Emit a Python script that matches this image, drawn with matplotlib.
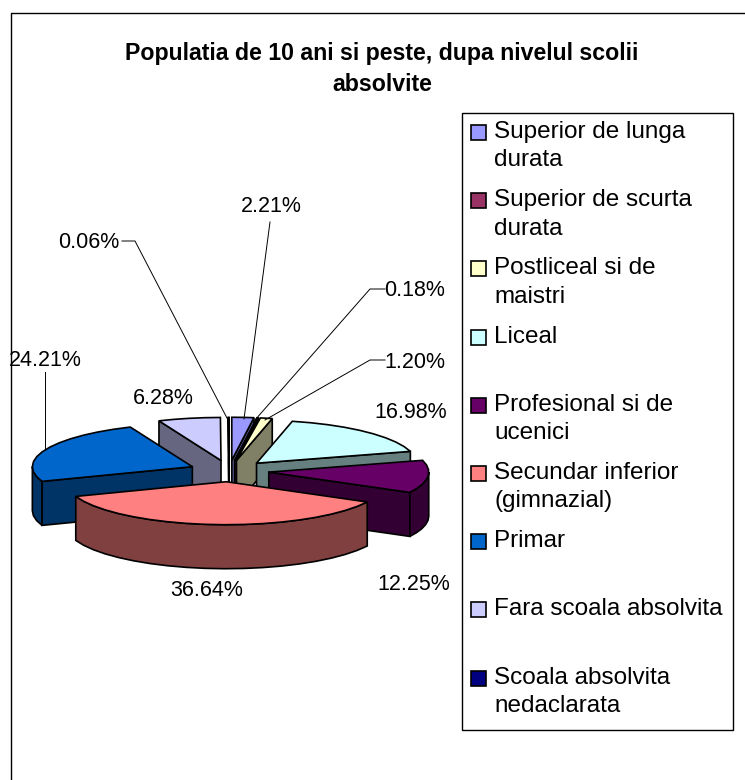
import matplotlib
matplotlib.use("Agg")
import matplotlib.pyplot as plt
from matplotlib.patches import Polygon, Rectangle
import numpy as np

plt.rcParams['font.family'] = ['Liberation Sans', 'DejaVu Sans']

title = "Populatia de 10 ani si peste, dupa nivelul scolii\nabsolvite"
categories = ["Superior de lunga\ndurata", "Superior de scurta\ndurata", "Postliceal si de\nmaistri",
              "Liceal", "Profesional si de\nucenici", "Secundar inferior\n(gimnazial)", "Primar",
              "Fara scoala absolvita", "Scoala absolvita\nnedaclarata"]
values = [2.21, 0.18, 1.20, 16.98, 12.25, 36.64, 24.21, 6.28, 0.06]
colors = ["#9999FF", "#993366", "#FFFFCC", "#CCFFFF", "#660066", "#FF8080", "#0066CC", "#CCCCFF", "#000080"]

# pie geometry, in pixels of the picture
cx, cy = 229, 471
rx, ry = 160, 43
depth = 44
explode = 0.25
lw = 1.2

fig = plt.figure(figsize=(7.45, 7.8), dpi=100)
ax = fig.add_axes([0, 0, 1, 1])
ax.set_xlim(0, 745)
ax.set_ylim(780, 0)
ax.axis("off")

# outer frame, only left and top are in the picture
ax.plot([11, 11, 745], [780, 13, 13], color="black", lw=1)


def dark(c):
    return tuple(v * 0.5 for v in matplotlib.colors.to_rgb(c))


def rim(a, x0, y0):
    # a is degrees clockwise from 12 o'clock
    t = np.radians(a)
    return x0 + rx * np.sin(t), y0 - ry * np.cos(t)


edges = np.cumsum([0] + values) / sum(values) * 360
mids = (edges[:-1] + edges[1:]) / 2
order = sorted(range(len(values)), key=lambda i: -np.cos(np.radians(mids[i])))

for i in order:
    a0, a1 = edges[i], edges[i + 1]
    m = np.radians(mids[i])
    x0 = cx + explode * rx * np.sin(m)
    y0 = cy - explode * ry * np.cos(m)
    c = colors[i]
    # cut faces which look towards the viewer
    for a, show in ((a0, np.sin(np.radians(a0)) < 0), (a1, np.sin(np.radians(a1)) > 0)):
        if show:
            x1, y1 = rim(a, x0, y0)
            ax.add_patch(Polygon([(x0, y0), (x1, y1), (x1, y1 + depth), (x0, y0 + depth)],
                                 fc=dark(c), ec="black", lw=lw, joinstyle="miter"))
    # outer wall, front half only
    b0, b1 = max(a0, 90), min(a1, 270)
    if b1 > b0:
        arc = np.linspace(b0, b1, int((b1 - b0) / 7) + 2)
        xs, ys = rim(arc, x0, y0)
        pts = list(zip(xs, ys)) + list(zip(xs[::-1], ys[::-1] + depth))
        ax.add_patch(Polygon(pts, fc=dark(c), ec="black", lw=lw, joinstyle="miter"))
    # top
    arc = np.linspace(a0, a1, int((a1 - a0) / 7) + 2)
    xs, ys = rim(arc, x0, y0)
    ax.add_patch(Polygon([(x0, y0)] + list(zip(xs, ys)), fc=c, ec="black", lw=lw, joinstyle="miter"))

# title
ax.text(382, 69, title, ha="center", va="center", fontsize=16.7, fontweight="bold", linespacing=1.45)

# data labels
fs = 15.5
labels = ["%.2f%%" % v for v in values]
label_xy = [(271, 206), (415, 291), (415, 362), (411, 413), (414, 585), (207, 591), (45, 360), (163, 398), (89, 243)]
for s, (x, y) in zip(labels, label_xy):
    ax.text(x, y, s, ha="center", va="center", fontsize=fs)

# leader lines
ax.plot([270, 244], [222, 419], color="black", lw=0.7)
ax.plot([122, 135, 228], [241, 241, 420], color="black", lw=0.7)
ax.plot([385, 370, 255], [289, 289, 420], color="black", lw=0.7)
ax.plot([385, 370, 265], [360, 360, 420], color="black", lw=0.7)
ax.plot([45, 45], [372, 450], color="black", lw=0.7)

# legend
ax.add_patch(Rectangle((462, 113), 271, 617, fc="white", ec="black", lw=1))
for i, name in enumerate(categories):
    y = 132 + 68.2 * i
    ax.add_patch(Rectangle((471, y - 7), 15, 15, fc=colors[i], ec="black", lw=1.2))
    ax.text(494, y - 11, name, ha="left", va="top", fontsize=17.5, linespacing=1.38)

fig.savefig("out.png", dpi=100)
